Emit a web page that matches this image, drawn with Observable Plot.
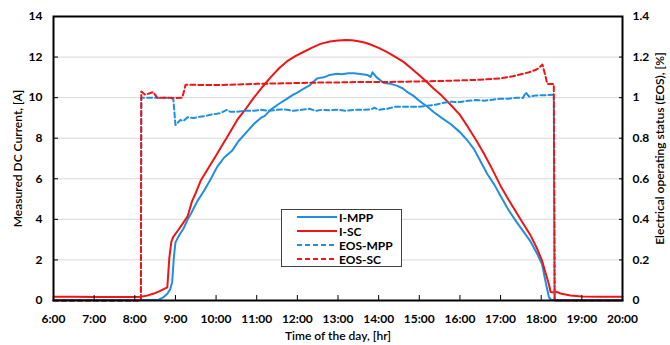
<!DOCTYPE html>
<html>
<head>
<meta charset="utf-8">
<script src="https://cdn.jsdelivr.net/npm/d3@7"></script>
<script src="https://cdn.jsdelivr.net/npm/@observablehq/plot@0.6"></script>
<style>
  body { margin: 0; background: #fff; }
  #wrap { position: relative; width: 670px; height: 345px; font-family: Lato, sans-serif; }
  .legend { position: absolute; left: 281px; top: 209px; width: 121px; height: 58px;
            border: 1px solid #404040; background: #fff; box-sizing: border-box; }
  .legend .row { display: flex; align-items: center; height: 14px; font: bold 12px Lato, sans-serif; color: #000; }
  .legend svg { margin-left: 15px; margin-right: 2px; }
</style>
</head>
<body>
<div id="wrap"></div>
<script>
// Hour of day (decimal) paired with measured value
const iMpp = [
  [6.0,0.03],[8.0,0.03],[8.59,0.04],[8.7,0.15],[8.8,0.33],[8.87,0.55],[8.92,0.9],[8.96,2.1],
  [9.0,2.85],[9.06,3.1],[9.12,3.3],[9.2,3.55],[9.29,3.95],[9.4,4.35],[9.54,4.9],[9.7,5.4],
  [9.86,5.95],[10.03,6.6],[10.2,7.05],[10.4,7.4],[10.55,7.85],[10.75,8.3],[10.93,8.7],[11.1,9.0],
  [11.2,9.1],[11.34,9.4],[11.55,9.7],[11.75,9.95],[11.9,10.15],[12.0,10.25],[12.16,10.45],[12.3,10.6],
  [12.4,10.8],[12.49,10.95],[12.65,11.0],[12.8,11.12],[12.98,11.18],[13.1,11.15],[13.25,11.2],[13.39,11.2],
  [13.55,11.17],[13.72,11.12],[13.8,11.02],[13.85,11.25],[13.95,11.0],[14.13,10.72],[14.3,10.68],[14.46,10.58],
  [14.6,10.45],[14.7,10.28],[14.85,10.1],[15.03,9.8],[15.2,9.55],[15.36,9.28],[15.55,9.0],[15.77,8.7],
  [16.0,8.3],[16.18,7.9],[16.35,7.45],[16.47,7.0],[16.67,6.25],[16.85,5.7],[17.0,5.15],[17.2,4.45],
  [17.4,3.85],[17.6,3.3],[17.74,2.9],[17.9,2.3],[18.02,1.8],[18.1,1.0],[18.19,0.16],[18.25,0.02],[20.0,0.02]
];
const iSc = [
  [6.0,0.18],[6.5,0.18],[7.0,0.17],[7.5,0.17],[8.0,0.17],[8.15,0.18],[8.3,0.24],[8.45,0.33],[8.6,0.45],
  [8.75,0.6],[8.8,0.65],[8.85,2.1],[8.9,2.9],[8.95,3.15],[9.08,3.5],[9.2,3.85],[9.3,4.15],[9.41,4.9],
  [9.5,5.3],[9.62,5.9],[9.8,6.5],[10.0,7.15],[10.15,7.65],[10.27,8.05],[10.52,8.9],[10.75,9.5],[10.93,10.0],
  [11.15,10.55],[11.34,11.0],[11.55,11.45],[11.75,11.8],[11.95,12.05],[12.15,12.25],[12.35,12.45],[12.57,12.65],
  [12.8,12.77],[13.0,12.82],[13.2,12.84],[13.35,12.83],[13.5,12.78],[13.65,12.72],[13.8,12.62],[14.0,12.45],
  [14.21,12.24],[14.42,12.0],[14.62,11.75],[14.8,11.45],[15.03,11.05],[15.2,10.75],[15.35,10.45],[15.55,10.1],
  [15.77,9.65],[16.0,9.15],[16.18,8.6],[16.4,7.9],[16.59,7.25],[16.8,6.45],[17.0,5.65],[17.2,4.95],[17.4,4.3],
  [17.6,3.65],[17.74,3.2],[17.9,2.55],[18.02,1.97],[18.1,1.4],[18.19,0.8],[18.23,0.42],[18.3,0.4],[18.39,0.42],
  [18.5,0.33],[18.72,0.25],[19.0,0.2],[19.5,0.18],[20.0,0.18]
];
const eosMpp = [
  [6.0,0],[8.15,0],[8.16,1.0],[8.9,1.0],[8.95,0.99],[9.0,0.865],[9.05,0.875],[9.12,0.89],[9.2,0.885],
  [9.3,0.903],[9.45,0.9],[9.6,0.906],[9.75,0.91],[9.86,0.916],[10.0,0.92],[10.1,0.923],[10.27,0.94],[10.35,0.93],
  [10.5,0.93],[10.7,0.935],[10.9,0.935],[11.1,0.94],[11.3,0.935],[11.5,0.94],[11.7,0.942],[11.9,0.935],
  [12.1,0.94],[12.3,0.945],[12.45,0.935],[12.6,0.94],[12.8,0.938],[13.0,0.94],[13.2,0.935],[13.4,0.94],
  [13.6,0.94],[13.8,0.942],[13.9,0.95],[14.0,0.94],[14.2,0.945],[14.4,0.955],[14.6,0.955],[14.8,0.955],
  [15.0,0.955],[15.2,0.96],[15.4,0.965],[15.6,0.975],[15.8,0.98],[16.0,0.978],[16.2,0.985],[16.4,0.988],
  [16.6,0.985],[16.8,0.99],[17.0,0.995],[17.2,0.995],[17.4,1.0],[17.55,0.998],[17.62,1.026],[17.7,1.005],
  [17.85,1.01],[18.0,1.012],[18.15,1.012],[18.31,1.015],[18.33,0],[20.0,0]
];
const eosSc = [
  [6.0,0],[8.15,0],[8.16,1.03],[8.25,1.015],[8.35,1.02],[8.45,1.028],[8.55,1.0],[8.75,1.0],[9.0,0.998],
  [9.17,1.0],[9.25,1.064],[9.5,1.063],[10.0,1.062],[10.5,1.065],[11.0,1.068],[11.5,1.07],[12.0,1.072],
  [12.5,1.074],[13.0,1.075],[13.5,1.077],[14.0,1.077],[14.5,1.078],[15.0,1.08],[15.5,1.082],[16.0,1.085],
  [16.5,1.088],[17.0,1.095],[17.3,1.105],[17.5,1.115],[17.7,1.125],[17.9,1.14],[18.03,1.163],[18.1,1.11],
  [18.15,1.067],[18.31,1.067],[18.33,0],[20.0,0]
];

const hourTicks = d3.range(6, 21);
const currentTicks = [0, 2, 4, 6, 8, 10, 12, 14];
const eosTicks = [0, 0.2, 0.4, 0.6, 0.8, 1, 1.2, 1.4];

const blue = "#1f8fe0";
const red = "#f01414";
const dash = "5,3";

// EOS shares the plot area; its axis runs 0–1.4 against the current's 0–14
const eosToCurrent = 10;

const series = [
  {name: "I-MPP", data: iMpp, color: blue, dashed: false, factor: 1},
  {name: "I-SC", data: iSc, color: red, dashed: false, factor: 1},
  {name: "EOS-MPP", data: eosMpp, color: blue, dashed: true, factor: eosToCurrent},
  {name: "EOS-SC", data: eosSc, color: red, dashed: true, factor: eosToCurrent}
];

const chart = Plot.plot({
  width: 670,
  height: 345,
  marginLeft: 53,
  marginRight: 48,
  marginTop: 16,
  marginBottom: 45,
  style: {fontFamily: "Lato, sans-serif", fontSize: "12px", fontWeight: 700, color: "#000", background: "#fff"},
  x: {domain: [6, 20]},
  y: {domain: [0, 14]},
  marks: [
    Plot.gridY(currentTicks.filter(d => d > 0 && d < 14), {stroke: "#d9d9d9", strokeOpacity: 1, strokeWidth: 1}),
    ...series.map(s => Plot.line(s.data, {
      x: d => d[0],
      y: d => d[1] * s.factor,
      stroke: s.color,
      strokeWidth: 2,
      strokeDasharray: s.dashed ? dash : null
    })),
    Plot.frame({stroke: "#000", strokeWidth: 2}),
    Plot.axisX(hourTicks, {tickFormat: d => `${d}:00`, tickSize: -5, tickPadding: 19, stroke: "#000", label: null}),
    Plot.axisY(currentTicks, {anchor: "left", tickSize: -5, tickPadding: 16, stroke: "#000", label: null}),
    Plot.axisY(eosTicks.map(v => v * eosToCurrent), {
      anchor: "right", tickSize: -4, tickPadding: 14, stroke: "#000", label: null,
      tickFormat: d => String(+(d / eosToCurrent).toFixed(1))
    }),
    Plot.text(["Measured DC Current, [A]"], {
      text: d => d, frameAnchor: "left", textAnchor: "middle", lineAnchor: "middle",
      dx: -35, rotate: -90, fontWeight: 600, fill: "#000"
    }),
    Plot.text(["Electrical operating status (EOS), [%]"], {
      text: d => d, frameAnchor: "right", textAnchor: "middle", lineAnchor: "middle",
      dx: 38, dy: -10, rotate: -90, fontWeight: 600, fill: "#000"
    }),
    Plot.text(["Time of the day, [hr]"], {
      text: d => d, frameAnchor: "bottom", textAnchor: "middle", lineAnchor: "middle",
      dy: 36, fontWeight: 600, fill: "#000"
    })
  ]
});

const wrap = document.getElementById("wrap");
wrap.appendChild(chart);

// Legend box inside the plot area
const legend = document.createElement("div");
legend.className = "legend";
for (const s of series) {
  const row = document.createElement("div");
  row.className = "row";
  row.innerHTML = `<svg width="40" height="6"><line x1="0" y1="3" x2="40" y2="3" stroke="${s.color}" stroke-width="2" ${s.dashed ? `stroke-dasharray="${dash}"` : ""}/></svg><span>${s.name}</span>`;
  legend.appendChild(row);
}
wrap.appendChild(legend);
</script>
</body>
</html>
